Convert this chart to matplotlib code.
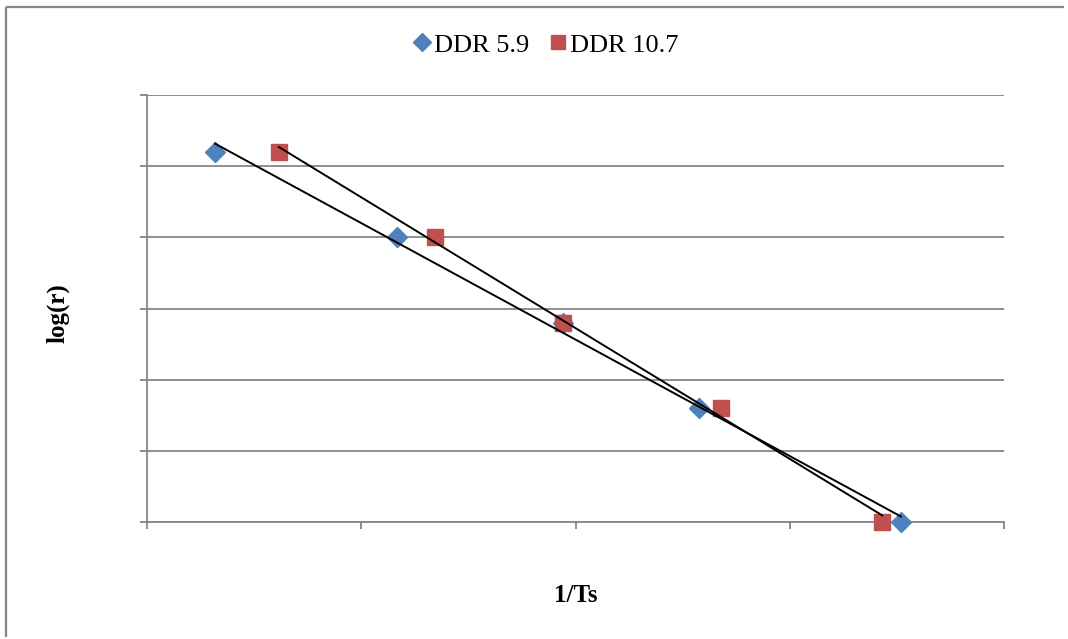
import matplotlib
matplotlib.use("Agg")
import matplotlib.pyplot as plt
import numpy as np
from matplotlib.lines import Line2D

plt.rcParams['font.family'] = ['Liberation Serif', 'DejaVu Serif']

# values (axis has no tick labels, so units are arbitrary)
x_ddr59 = [0.317, 1.167, 1.942, 2.576, 3.519]
y_ddr59 = [5.2, 4.0, 2.8, 1.6, 0.0]
x_ddr107 = [0.616, 1.344, 1.942, 2.679, 3.431]
y_ddr107 = [5.2, 4.0, 2.8, 1.6, 0.0]

blue = '#4F81BD'
red = '#C0504D'
grey = '#868686'

fig = plt.figure(figsize=(10.68, 6.39), dpi=100, facecolor='white', edgecolor='none')
# outer chart border: only the left and top edges show in the reference
bx, by = 6.0 / 1068, 1 - 6.5 / 639
fig.add_artist(Line2D([bx, bx], [2 / 639, by], transform=fig.transFigure,
                      color=grey, linewidth=1.6, solid_capstyle='butt'))
fig.add_artist(Line2D([bx, 1064 / 1068], [by, by], transform=fig.transFigure,
                      color=grey, linewidth=1.6, solid_capstyle='butt'))

ax = fig.add_axes([147 / 1068, 1 - 522 / 639, (1004 - 147) / 1068, (522 - 95) / 639])
ax.set_xlim(0, 4)
ax.set_ylim(0, 6)
ax.set_xticks(np.arange(0, 5, 1))
ax.set_yticks(np.arange(0, 7, 1))
ax.set_xticklabels([])
ax.set_yticklabels([])
ax.tick_params(direction='out', length=5, width=1.3, color=grey)
ax.grid(axis='y', color=grey, linewidth=1.3)
ax.set_axisbelow(True)
for s in ['top', 'right']:
    ax.spines[s].set_visible(False)
for s in ['left', 'bottom']:
    ax.spines[s].set_color(grey)
    ax.spines[s].set_linewidth(1.3)

# linear trend lines
for xs, ys in [(x_ddr59, y_ddr59), (x_ddr107, y_ddr107)]:
    k, b = np.polyfit(xs, ys, 1)
    xl = np.array([min(xs), max(xs)])
    ax.plot(xl, k * xl + b, color='black', linewidth=1.4, zorder=4, clip_on=False)

ax.plot(x_ddr59, y_ddr59, linestyle='none', marker='D', markersize=10.5,
        color=blue, label='DDR 5.9', zorder=3, clip_on=False)
ax.plot(x_ddr107, y_ddr107, linestyle='none', marker='s', markersize=11,
        color=red, label='DDR 10.7', zorder=3, clip_on=False)

fig.legend(loc='center', bbox_to_anchor=(546 / 1068, 1 - 45 / 639), ncol=2,
           frameon=False, fontsize=19, handlelength=0.6, handletextpad=0.15,
           columnspacing=0.8, markerscale=0.9)

fig.text(58 / 1068, 1 - 313 / 639, 'log(r)', rotation=90, ha='center', va='center',
         fontsize=18, fontweight='bold')
fig.text(576 / 1068, 1 - 595 / 639, '1/Ts', ha='center', va='center',
         fontsize=18, fontweight='bold')

fig.savefig('out.png', dpi=100)
